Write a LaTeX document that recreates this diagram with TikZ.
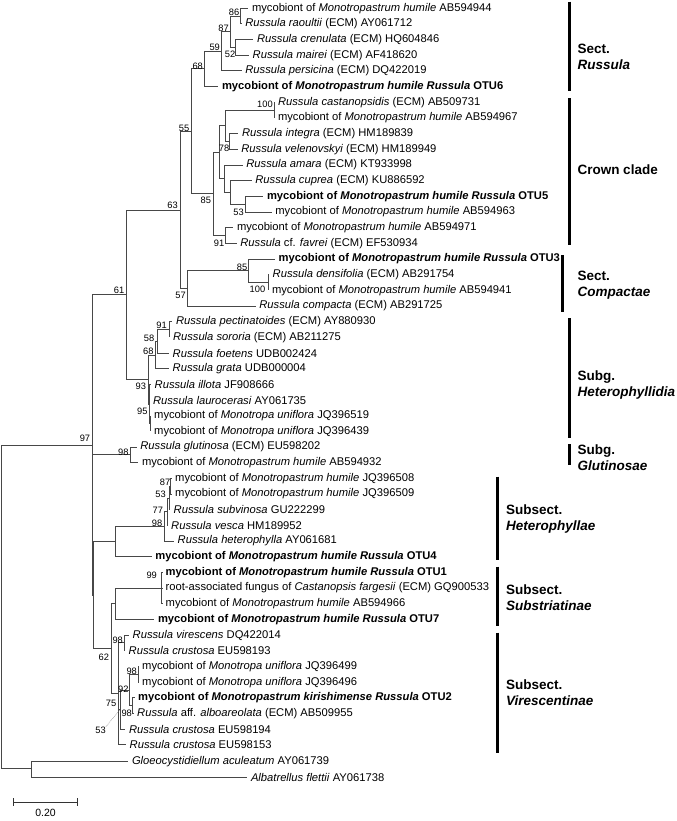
\documentclass[tikz,border=0pt]{standalone}
\usepackage{fontspec}
\setmainfont{Liberation Sans}
\newcommand\leafnode[5]{\coordinate (t#1) at (#3,#4); \draw[br] (#2) |- (t#1); \node[lf] (l#1) at (t#1) {#5};}
\newcommand\myc{mycobiont of \textit{Monotropastrum humile}}
\newcommand\mycu{mycobiont of \textit{Monotropa uniflora}}
\begin{document}
\begin{tikzpicture}[x=1bp,y=-1bp,
  br/.style={draw=black!72,line width=1bp},
  lf/.style={anchor=west,inner xsep=3.5bp,inner ysep=0pt,font=\fontsize{11.2bp}{13bp}\selectfont},
  bs/.style={inner sep=0pt,font=\fontsize{9.3bp}{10bp}\selectfont},
  cl/.style={anchor=west,inner sep=0pt,align=left,font=\fontsize{13.5bp}{16bp}\selectfont\bfseries},
  cbar/.style={line width=3.5bp,black}]
\useasboundingbox (0,0) rectangle (677,821);
% internal nodes
\coordinate (n86) at (240.7,16.1);
\coordinate (n52) at (235,47.5);
\coordinate (n87) at (230.7,31.8);
\coordinate (n59) at (221,51.4);
\coordinate (n68) at (204.3,69);
\coordinate (n100a) at (274.3,110.2);
\coordinate (n78) at (229.3,141.5);
\coordinate (c2) at (225.7,125.8);
\coordinate (n53a) at (245,204.2);
\coordinate (c4) at (230.7,192.4);
\coordinate (c3) at (224,178.7);
\coordinate (c1) at (219.3,152.3);
\coordinate (n91a) at (225,235.5);
\coordinate (n85a) at (213.3,193.9);
\coordinate (n55) at (191.3,131.5);
\coordinate (n100b) at (268.3,282.5);
\coordinate (n85b) at (248.3,270.8);
\coordinate (n57) at (187.3,288.4);
\coordinate (n63) at (180,210);
\coordinate (n91b) at (169.3,329.5);
\coordinate (n58) at (157,341.3);
\coordinate (n68b) at (155,355);
\coordinate (n95s) at (150.5,423.6);
\coordinate (n95) at (149.3,404);
\coordinate (n93) at (148.3,379.5);
\coordinate (n61) at (126.3,294.8);
\coordinate (n98g) at (130,454.9);
\coordinate (n87h) at (170.7,486.2);
\coordinate (n53h) at (169,498);
\coordinate (n77) at (167.3,511.7);
\coordinate (n98h) at (164,526.4);
\coordinate (nhet) at (115,541.6);
\coordinate (n99) at (161.7,588.1);
\coordinate (nsub) at (115.7,603.8);
\coordinate (n98v) at (124,642.9);
\coordinate (n98u) at (138.3,674.3);
\coordinate (n98k) at (132.7,705.6);
\coordinate (n92) at (129.3,690);
\coordinate (n53v) at (120,709.6);
\coordinate (n75) at (118.3,693.9);
\coordinate (n62) at (111.7,648.8);
\coordinate (nz) at (93.3,595.2);
\coordinate (n97) at (92.7,445);
\coordinate (nout) at (31,768.3);
\coordinate (nroot) at (1.7,606.6);
% internal edges
\foreach \p/\c in {n87/n86,n87/n52,n59/n87,n68/n59,n55/n68,c2/n100a,c2/n78,c4/n53a,c3/c4,c1/c2,c1/c3,n85a/c1,n85a/n91a,n55/n85a,n85b/n100b,n57/n85b,n63/n55,n63/n57,n58/n91b,n68b/n58,n95/n95s,n93/n68b,n93/n95,n61/n63,n61/n93,n97/n61,n97/n98g,n97/nz,nz/nhet,nz/n62,nhet/n98h,n98h/n77,n77/n53h,n53h/n87h,n62/nsub,nsub/n99,n62/n75,n75/n98v,n75/n53v,n53v/n92,n92/n98u,n92/n98k,nroot/n97,nroot/nout}
  \draw[br] (\p) |- (\c);
% leaves
\leafnode{1}{n86}{248.3}{8.3}{\myc{} AB594944}
\leafnode{2}{n86}{241.7}{23.97}{\textit{Russula raoultii} (ECM) AY061712}
\leafnode{3}{n52}{253.3}{39.64}{\textit{Russula crenulata} (ECM) HQ604846}
\leafnode{4}{n52}{249}{55.31}{\textit{Russula mairei} (ECM) AF418620}
\leafnode{5}{n59}{241.7}{70.98}{\textit{Russula persicina} (ECM) DQ422019}
\leafnode{6}{n68}{218.3}{86.65}{\textbf{mycobiont of \textit{Monotropastrum humile Russula} OTU6}}
\leafnode{7}{n100a}{274.3}{102.32}{\textit{Russula castanopsidis} (ECM) AB509731}
\leafnode{8}{n100a}{274.3}{117.99}{\myc{} AB594967}
\leafnode{9}{n78}{238.3}{133.66}{\textit{Russula integra} (ECM) HM189839}
\leafnode{10}{n78}{237.7}{149.33}{\textit{Russula velenovskyi} (ECM) HM189949}
\leafnode{11}{c3}{242.7}{165.0}{\textit{Russula amara} (ECM) KT933998}
\leafnode{12}{c4}{251.7}{180.67}{\textit{Russula cuprea} (ECM) KU886592}
\leafnode{13}{n53a}{263.3}{196.34}{\textbf{mycobiont of \textit{Monotropastrum humile Russula} OTU5}}
\leafnode{14}{n53a}{271.7}{212.01}{\myc{} AB594963}
\leafnode{15}{n91a}{233.3}{227.68}{\myc{} AB594971}
\leafnode{16}{n91a}{236.7}{243.35}{\textit{Russula} cf. \textit{favrei} (ECM) EF530934}
\leafnode{17}{n85b}{275}{259.02}{\textbf{mycobiont of \textit{Monotropastrum humile Russula} OTU3}}
\leafnode{18}{n100b}{269}{274.69}{\textit{Russula densifolia} (ECM) AB291754}
\leafnode{19}{n100b}{268.3}{290.36}{\myc{} AB594941}
\leafnode{20}{n57}{255.7}{306.03}{\textit{Russula compacta} (ECM) AB291725}
\leafnode{21}{n91b}{172.3}{321.7}{\textit{Russula pectinatoides} (ECM) AY880930}
\leafnode{22}{n91b}{169.3}{337.37}{\textit{Russula sororia} (ECM) AB211275}
\leafnode{23}{n58}{169}{353.04}{\textit{Russula foetens} UDB002424}
\leafnode{24}{n68b}{169}{368.71}{\textit{Russula grata} UDB000004}
\leafnode{25}{n95}{151}{384.38}{\textit{Russula illota} JF908666}
\leafnode{26}{n95}{149.3}{400.05}{\textit{Russula laurocerasi} AY061735}
\leafnode{27}{n95s}{150.5}{415.72}{\mycu{} JQ396519}
\leafnode{28}{n95s}{150.5}{431.39}{\mycu{} JQ396439}
\leafnode{29}{n98g}{136.7}{447.06}{\textit{Russula glutinosa} (ECM) EU598202}
\leafnode{30}{n98g}{138.3}{462.73}{\myc{} AB594932}
\leafnode{31}{n87h}{171.5}{478.4}{\myc{} JQ396508}
\leafnode{32}{n87h}{171.5}{494.07}{\myc{} JQ396509}
\leafnode{33}{n53h}{170}{509.74}{\textit{Russula subvinosa} GU222299}
\leafnode{34}{n77}{167.5}{525.41}{\textit{Russula vesca} HM189952}
\leafnode{35}{n98h}{174}{541.08}{\textit{Russula heterophylla} AY061681}
\leafnode{36}{nhet}{151.7}{556.75}{\textbf{mycobiont of \textit{Monotropastrum humile Russula} OTU4}}
\leafnode{37}{n99}{162}{572.42}{\textbf{mycobiont of \textit{Monotropastrum humile Russula} OTU1}}
\leafnode{38}{n99}{162}{588.09}{root-associated fungus of \textit{Castanopsis fargesii} (ECM) GQ900533}
\leafnode{39}{n99}{162}{603.76}{\myc{} AB594966}
\leafnode{40}{nsub}{154.3}{619.43}{\textbf{mycobiont of \textit{Monotropastrum humile Russula} OTU7}}
\leafnode{41}{n98v}{129}{635.1}{\textit{Russula virescens} DQ422014}
\leafnode{42}{n98v}{125}{650.77}{\textit{Russula crustosa} EU598193}
\leafnode{43}{n98u}{138.5}{666.44}{\mycu{} JQ396499}
\leafnode{44}{n98u}{138.5}{682.11}{\mycu{} JQ396496}
\leafnode{45}{n98k}{134.5}{697.78}{\textbf{mycobiont of \textit{Monotropastrum kirishimense Russula} OTU2}}
\leafnode{46}{n98k}{133.5}{713.45}{\textit{Russula} aff. \textit{alboareolata} (ECM) AB509955}
\leafnode{47}{n53v}{125.3}{729.12}{\textit{Russula crustosa} EU598194}
\leafnode{48}{n75}{126}{744.79}{\textit{Russula crustosa} EU598153}
\leafnode{49}{nout}{128.3}{761.5}{\textit{Gloeocystidiellum aculeatum} AY061739}
\leafnode{50}{nout}{247.3}{777}{\textit{Albatrellus flettii} AY061738}
% bootstrap values
\node[bs] (b86) at (234,12.3) {86};
\node[bs] (b87) at (223.5,27.8) {87};
\node[bs] (b52) at (230,54) {52};
\node[bs] (b59) at (214.7,47) {59};
\node[bs] (b68) at (197.7,66) {68};
\node[bs] (b55) at (184,128) {55};
\node[bs] (b100a) at (265,104) {100};
\node[bs] (b78) at (224,148.5) {78};
\node[bs] (b85a) at (205.8,200.7) {85};
\node[bs] (b53a) at (238.5,212) {53};
\node[bs] (b91a) at (219,243.5) {91};
\node[bs] (b63) at (172.5,205.5) {63};
\node[bs] (b85b) at (242,267) {85};
\node[bs] (b100b) at (257.5,289) {100};
\node[bs] (b57) at (180.5,295.8) {57};
\node[bs] (b61) at (119,290.3) {61};
\node[bs] (b91b) at (161.5,325.3) {91};
\node[bs] (b58) at (149,338.5) {58};
\node[bs] (b68b) at (148.3,351.7) {68};
\node[bs] (b93) at (140.8,386.7) {93};
\node[bs] (b95) at (142.3,411) {95};
\node[bs] (b97) at (85,438) {97};
\node[bs] (b98g) at (123.3,452) {98};
\node[bs] (b87h) at (165,482) {87};
\node[bs] (b53h) at (160.5,494) {53};
\node[bs] (b77) at (157.8,509.8) {77};
\node[bs] (b98h) at (157,523) {98};
\node[bs] (b99) at (151.7,575) {99};
\node[bs] (b98v) at (117.7,640.3) {98};
\node[bs] (b62) at (103.8,657) {62};
\node[bs] (b98u) at (131.7,671) {98};
\node[bs] (b92) at (123.3,688.8) {92};
\node[bs] (b75) at (111,703.3) {75};
\node[bs] (b98k) at (126.7,713.5) {98};
\node[bs] (b53v) at (100.5,730.3) {53};
\draw[black!60,line width=0.5bp,densely dotted] (b53v.north east) -- (n53v);
% clade bars and names
\draw[cbar] (569.3,1.7) -- (569.3,90.7);
\node[cl] (k1) at (577.3,56.5) {Sect.\\\textit{Russula}};
\draw[cbar] (569.3,98.3) -- (569.3,245);
\node[cl] (k2) at (577.3,170) {Crown clade};
\draw[cbar] (562.7,255) -- (562.7,311.7);
\node[cl] (k3) at (577.3,284.7) {Sect.\\\textit{Compactae}};
\draw[cbar] (569.3,318.3) -- (569.3,437.7);
\node[cl] (k4) at (577.3,385.3) {Subg.\\\textit{Heterophyllidia}};
\draw[cbar] (569.3,444) -- (569.3,465);
\node[cl] (k5) at (577.3,457.8) {Subg.\\\textit{Glutinosae}};
\draw[cbar] (497.7,476.7) -- (497.7,560);
\node[cl] (k6) at (506,519.2) {Subsect.\\\textit{Heterophyllae}};
\draw[cbar] (497.7,566.7) -- (497.7,626);
\node[cl] (k7) at (506,598) {Subsect.\\\textit{Substriatinae}};
\draw[cbar] (497.7,632.7) -- (497.7,752.7);
\node[cl] (k8) at (506,693) {Subsect.\\\textit{Virescentinae}};
% scale bar
\coordinate (s1) at (13.3,802);
\coordinate (s2) at (77.7,802);
\draw[black!80,line width=1bp] (s1) -- (s2);
\draw[black!80,line width=1bp] ([yshift=4bp]s1) -- ([yshift=-4bp]s1);
\draw[black!80,line width=1bp] ([yshift=4bp]s2) -- ([yshift=-4bp]s2);
\node[inner sep=0pt,font=\fontsize{10.5bp}{12bp}\selectfont] (sc) at (45.5,812.5) {0.20};
\end{tikzpicture}
\end{document}
